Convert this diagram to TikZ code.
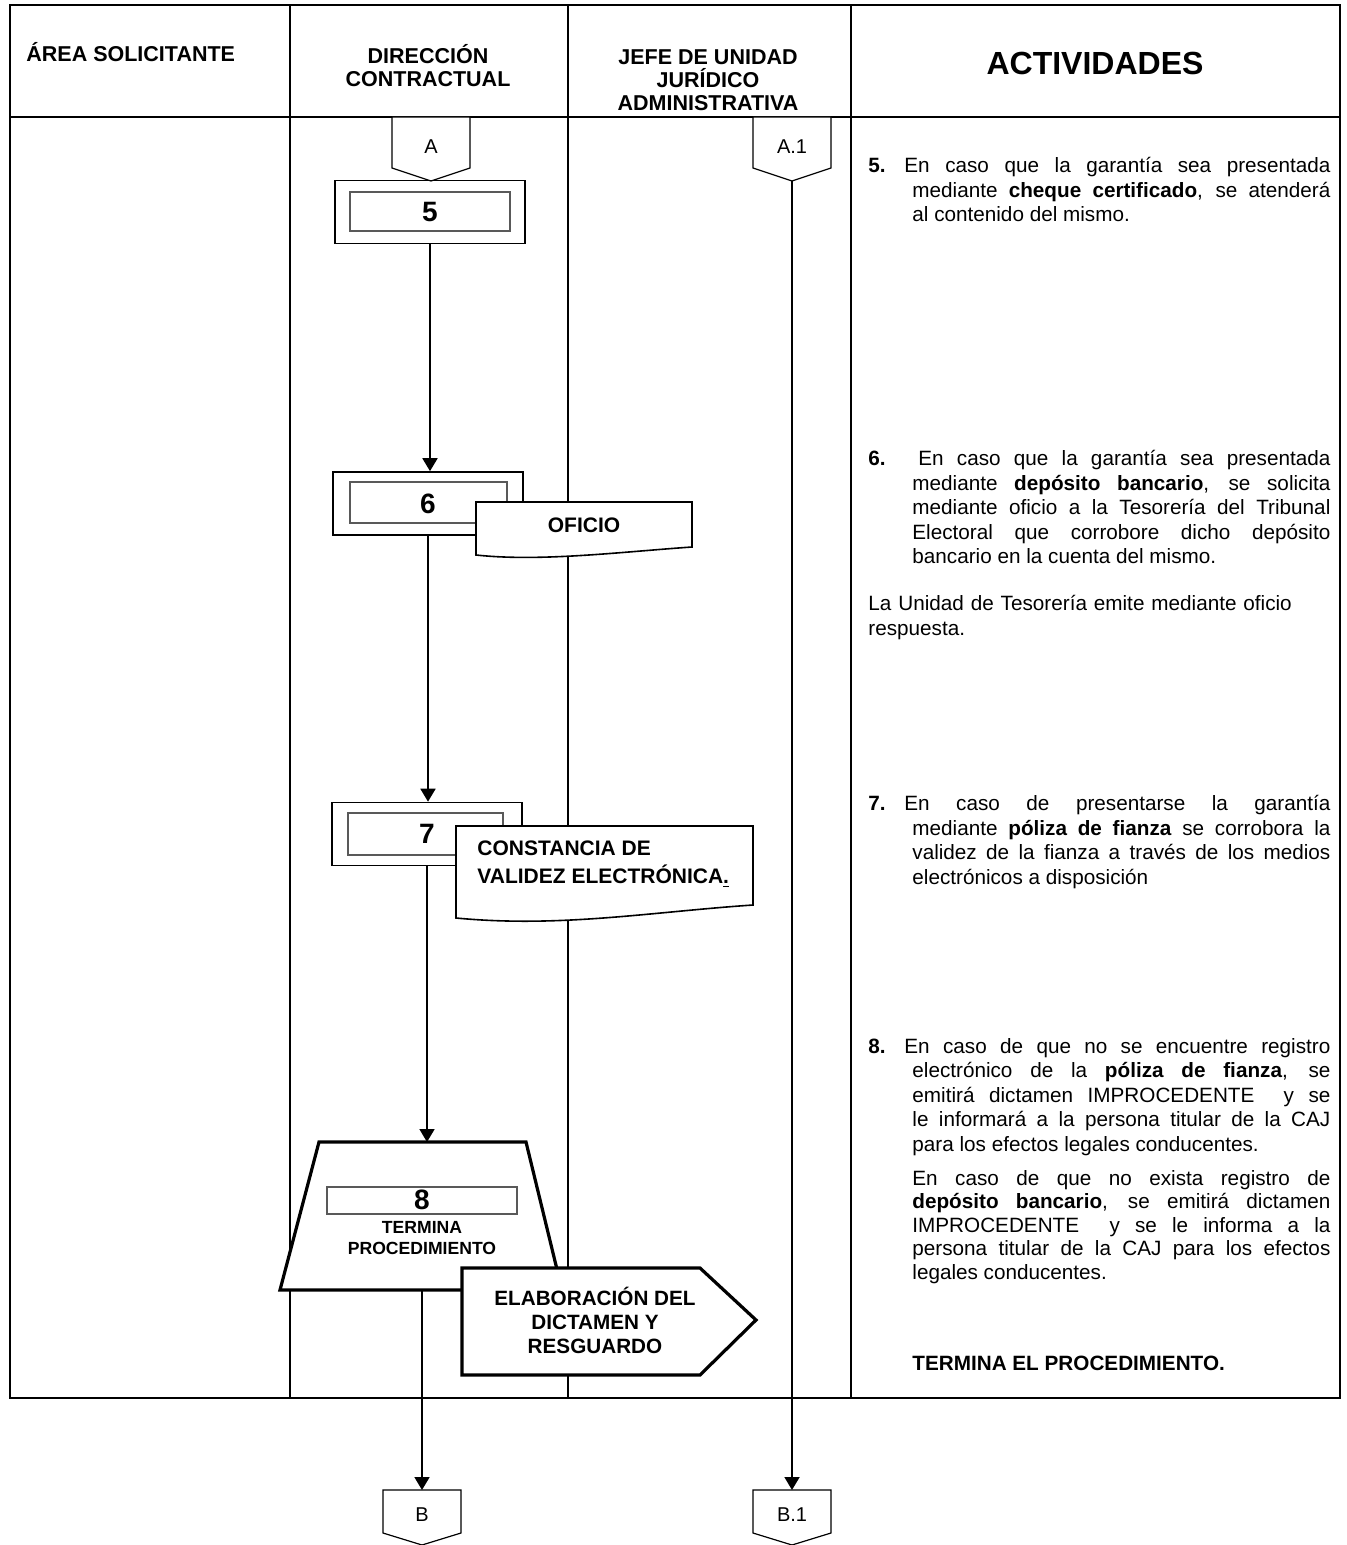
\documentclass[tikz,border=0pt]{standalone}
\usepackage{fontspec}
\setmainfont{Liberation Sans}
\usetikzlibrary{arrows.meta}

\newcommand{\actnum}[1]{\llap{\makebox[22pt][l]{\textbf{#1}}}}

\begin{document}
\begin{tikzpicture}[x=0.5pt, y=-0.5pt,
	lane/.style={line width=0.65pt},
	lanehead/.style={font=\fontsize{10.75}{11.5}\selectfont\bfseries, inner sep=0pt, align=center},
	num/.style={font=\fontsize{14}{16}\selectfont\bfseries, inner sep=0pt},
	proc/.style={draw, line width=0.8pt, minimum width=95pt, minimum height=31.5pt, inner sep=0pt, num},
	subbox/.style={draw=black!65, line width=1pt},
	conbox/.style={draw, fill=white, line width=0.6pt},
	con/.style={font=\fontsize{10}{12}\selectfont, inner sep=0pt},
	doc/.style={draw, fill=white, line width=0.8pt},
	lbl/.style={font=\fontsize{10.5}{14}\selectfont\bfseries, inner sep=0pt, align=left},
	heavy/.style={draw, fill=white, line width=1.6pt},
	flow/.style={line width=0.9pt, -{Triangle[width=7.5pt, length=6.5pt]}},
	act/.style={anchor=north west, inner sep=0pt, text width=209pt, align=justify,
		font=\fontsize{10.35}{12.25}\selectfont,
		execute at begin node={\tolerance=10000 \hyphenpenalty=10000 \hbadness=10000 }},
	]
	\useasboundingbox (0,0) rectangle (1347,1545);

	% tabla
	\draw[lane] (10,5) rectangle (1340,1398);
	\draw[lane] (10,117) -- (1340,117);
	\foreach \x in {290,568,851}
		\draw[lane] (\x,5) -- (\x,1398);

	\node[lanehead, anchor=base west] (hsol) at (26,62) {ÁREA SOLICITANTE};
	\node[lanehead] (hdir) at (428,66) {DIRECCIÓN\\CONTRACTUAL};
	\node[lanehead] (hjef) at (708,80) {JEFE DE UNIDAD\\JURÍDICO\\ADMINISTRATIVA};
	\node[lanehead, font=\fontsize{16}{18}\selectfont\bfseries] (hact) at (1095,63) {ACTIVIDADES};

	% conectores de entrada
	\draw[conbox] (392,117) -- (470,117) -- (470,168) -- (431,181) -- (392,168) -- cycle;
	\node[con] (A) at (431,147) {A};
	\draw[conbox] (753,117) -- (831,117) -- (831,168) -- (792,181) -- (753,168) -- cycle;
	\node[con] (A1) at (792,147) {A.1};
	\coordinate (A1tip) at (792,181);

	% procesos
	\node[proc] (p5) at (430,212) {5};
	\draw[subbox] (350,192) rectangle (510,231);
	\node[proc] (p6) at (428,503.5) {6};
	\draw[subbox] (350,482) rectangle (507,523);
	\node[proc] (p7) at (427,834) {7};
	\draw[subbox] (348,813) rectangle (503,855);

	\draw[doc] (476,502) -- (692,502) -- (692,547) .. controls (620,552) and (540,562) .. (476,555) -- cycle;
	\node[lbl] (oficio) at (584,525) {OFICIO};
	\draw[doc] (456,826) -- (753,826) -- (753,905) .. controls (650,912) and (560,928) .. (456,918) -- cycle;
	\node[lbl, anchor=west] (constancia) at (477,864) {CONSTANCIA DE\\VALIDEZ ELECTRÓNICA\underline{.}};

	% termino
	\draw[heavy] (319,1142) -- (526,1142) -- (562,1290) -- (280,1290) -- cycle;
	\draw[subbox] (327,1187) rectangle (517,1214);
	\node[num] (n8) at (422,1200) {8};
	\node[lbl, align=center, font=\fontsize{8.8}{10.5}\selectfont\bfseries] (termina) at (422,1238) {TERMINA\\PROCEDIMIENTO};
	\coordinate (trtop) at (427,1142);
	\coordinate (trbot) at (422,1290);
	\draw[heavy] (462,1268) -- (700,1268) -- (756,1320) -- (700,1375) -- (462,1375) -- cycle;
	\node[lbl, align=center, font=\fontsize{10.35}{12}\selectfont\bfseries] (dictamen) at (595,1320) {ELABORACIÓN DEL\\DICTAMEN Y\\RESGUARDO};

	% conectores de salida
	\draw[conbox] (383,1490) -- (461,1490) -- (461,1533) -- (422,1545) -- (383,1533) -- cycle;
	\node[con] (B) at (422,1515) {B};
	\coordinate (Btop) at (422,1490);
	\draw[conbox] (753,1490) -- (831,1490) -- (831,1533) -- (792,1545) -- (753,1533) -- cycle;
	\node[con] (B1) at (792,1515) {B.1};
	\coordinate (B1top) at (792,1490);

	% flujo
	\draw[flow] (p5.south) -- (p5.south |- p6.north);
	\draw[flow] (p6.south) -- (p6.south |- p7.north);
	\draw[flow] (p7.south) -- (p7.south |- trtop);
	\draw[flow] (trbot) -- (Btop);
	\draw[flow] (A1tip) -- (B1top);

	% actividades
	\node[act] (t5) at (912,157) {\noindent\actnum{5.}\hspace*{-4pt}En caso que la garantía sea presentada\linebreak
		mediante \textbf{cheque certificado}, se atenderá\linebreak
		al contenido del mismo.};
	\node[act] (t6) at (912,450) {\noindent\actnum{6.}\hspace*{3pt}En caso que la garantía sea presentada\linebreak
		mediante \textbf{depósito bancario}, se solicita\linebreak
		mediante oficio a la Tesorería del Tribunal\linebreak
		Electoral que corrobore dicho depósito\linebreak
		bancario en la cuenta del mismo.};
	\node[act, text width=231pt, align=left] (t6b) at (868,595) {La Unidad de Tesorería emite mediante oficio\\respuesta.};
	\node[act] (t7) at (912,795) {\noindent\actnum{7.}\hspace*{-4pt}En caso de presentarse la garantía\linebreak
		mediante \textbf{póliza de fianza} se corrobora la\linebreak
		validez de la fianza a través de los medios\linebreak
		electrónicos a disposición};
	\node[act] (t8) at (912,1038) {\noindent\actnum{8.}\hspace*{-4pt}En caso de que no se encuentre registro\linebreak
		electrónico de la \textbf{póliza de fianza}, se\linebreak
		emitirá dictamen IMPROCEDENTE\ \ y se\linebreak
		le informará a la persona titular de la CAJ\linebreak
		para los efectos legales conducentes.};
	\node[act, font=\fontsize{10.35}{11.75}\selectfont] (t8b) at (912,1170) {\noindent En caso de que no exista registro de\linebreak
		\textbf{depósito bancario}, se emitirá dictamen\linebreak
		IMPROCEDENTE\ \ y se le informa a la\linebreak
		persona titular de la CAJ para los efectos\linebreak
		legales conducentes.};
	\node[lbl, anchor=base west, font=\fontsize{10.35}{12}\selectfont\bfseries] (fin) at (912,1370) {TERMINA EL PROCEDIMIENTO.};
\end{tikzpicture}
\end{document}
